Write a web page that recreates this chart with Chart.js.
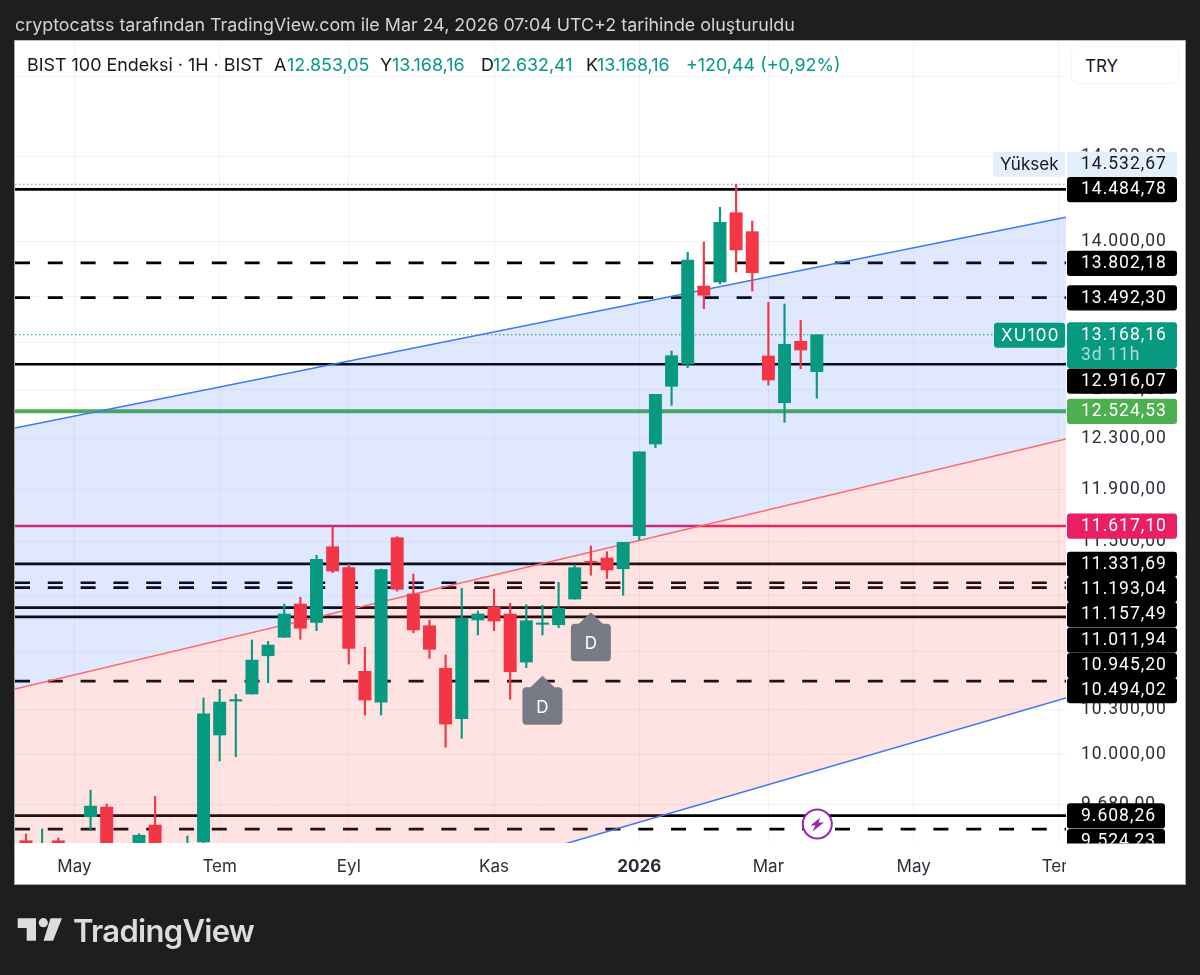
<!DOCTYPE html>
<html><head><meta charset="utf-8">
<script src="https://cdn.jsdelivr.net/npm/chart.js@4"></script>
<style>
html,body{margin:0;padding:0;width:1200px;height:975px;background:#1e1e1e;overflow:hidden;font-family:Inter,"Noto Sans",sans-serif}
#panel{position:absolute;left:14px;top:40px;width:1170px;height:843px;background:#fff;border:1px solid #a8a8a8;border-top-color:#bbb;box-sizing:content-box}
canvas{position:absolute;left:0;top:0;z-index:1}
.t{position:absolute;white-space:nowrap;z-index:2;line-height:1}
.h{top:55.5px;font-size:17.9px;color:#131722}
.g{color:#089981}
#try{position:absolute;z-index:2;left:1071px;top:46px;width:108px;height:38px;box-sizing:border-box;border:1px solid #f0f3fa;border-radius:7px;background:#fff}
</style></head><body>
<div id="panel"></div>
<canvas id="c" width="1200" height="975" style="width:1200px;height:975px"></canvas>
<div class="t" style="left:15px;top:15.5px;font-size:17.85px;color:#d4d4d4">cryptocatss tarafından TradingView.com ile Mar 24, 2026 07:04 UTC+2 tarihinde oluşturuldu</div>
<div class="t h" style="left:27px">BIST 100 Endeksi · 1H · BIST</div>
<div class="t h" style="left:274px">A</div><div class="t h g" style="left:287px">12.853,05</div>
<div class="t h" style="left:380px">Y</div><div class="t h g" style="left:392px">13.168,16</div>
<div class="t h" style="left:481px">D</div><div class="t h g" style="left:493px">12.632,41</div>
<div class="t h" style="left:586px">K</div><div class="t h g" style="left:597px">13.168,16</div>
<div class="t h g" style="left:686px">+120,44 (+0,92%)</div>
<div id="try"></div><div class="t" style="left:1085px;top:57.5px;font-size:17px;color:#131722">TRY</div>
<svg style="position:absolute;left:0;top:900px;z-index:2" width="70" height="60" viewBox="0 900 70 60"><path fill="#dcdcdc" d="M17.7 918.3H36V940.7H26.7V928H17.7ZM62 918.3H50.5L43.5 940.7H53Z"/><circle cx="43.3" cy="922.7" r="4.6" fill="#dcdcdc"/></svg>
<div class="t" style="left:73px;top:915px;font-size:31px;font-weight:600;letter-spacing:-.7px;color:#dcdcdc">TradingView</div>
<script>
// Weekly candles (the first ones run below the visible range).
const candleIdx=Array.from({length:50},(_,i)=>i);
const opens=[9452,9321,9452,9182,9602,9663,9333,9333,9550,9333,9260,9444,10130,
10358,10406,10670,10800,11038,10906,11460,11304,10562,10351,11528,11111,10882,
10583,10239,10923,11014,10966,10626,10892,10889,11074,11351,11376,11296,11543,
12258,12731,12918,13595,13631,14264,14088,12986,12594,13112,12853.05];
const highs=[9494,9525,9469,9333,9771,9682,9364,9495,9730,9364,9481,10379,10438,
10404,10781,10771,11038,11087,11396,11617,11329,10729,11294,11536,11257,10923,
10675,11152,10987,11147,11043,11033,11029,11196,11326,11466,11423,11493,12196,
12664,13028,13899,13993,14315,14532.67,14187,13451,13436,13293,13168.16];
const lows=[9242,9260,9303,9122,9514,9212,9152,9272,9242,9182,9212,9425,9959,
9987,10406,10483,10800,10786,10847,11267,10612,10264,10264,11132,10832,10652,
10049,10108,10816,10847,10370,10587,10816,10868,11074,11248,11225,11101,11511,
12228,12573,12887,13395,13613,13721,13551,12741,12434,12878,12632.41];
const closes=[9333,9395,9364,9303,9669,9272,9212,9486,9303,9242,9395,10272,10351,
10368,10640,10745,10966,10864,11366,11279,10722,10365,11289,11145,10852,10715,
10203,10937,10966,10916,10559,10918,10901,11007,11304,11341,11287,11493,12196,
12664,12988,13829,13513,14175,13920,13714,12783,13086,13037,13168.16];
// Horizontal levels
const solidLevels=[14484.78,12916.07,11331.69,11011.94,10945.20,9608.26];
const dashedLevels=[13802.18,13492.30,11193.04,11157.49,10494.02,9524.23];
const greenLevel=12524.53, magentaLevel=11617.10, highLevel=14532.67, lastPrice=13168.16;
// Channel lines, left and right ends
const channelUpper=[12387,14221], channelMiddle=[10440,12298], channelLower=[8493,10379];
// Axis ticks
const xTickIdx=[3,12,20,29,38,46,55,64];
const xTickLabels=['May','Tem','Eyl','Kas','2026','Mar','May','Tem'];
const yTicks=[15600,14800,14000,13500,13100,12700,12300,11900,11500,11100,10700,10300,10000,9680];
// Events
const dividendIdx=[32,35], dividendPrice=[10531,10978];
const boltIdx=[49], boltPrice=[9556];
// Price tags
const tagValues=[14532.67,14484.78,13802.18,13492.30,13168.16,12916.07,12524.53,11617.10,11331.69,11193.04,11157.49,11011.94,10945.20,10494.02,9608.26,9524.23];

const X_MIN=-0.6815, X_MAX=64.44;
const fmt=v=>{const [a,b]=v.toFixed(2).split('.');return a.replace(/\B(?=(\d{3})+$)/g,'.')+','+b};
const seg=v=>[{x:X_MIN,y:v},{x:X_MAX,y:v}];
const UP='#089981',DOWN='#F23645';
const cols=candleIdx.map(i=>closes[i]>=opens[i]?UP:DOWN);
const level=(v,color,width,dash)=>({type:'line',data:seg(v),borderColor:color,borderWidth:width,borderDash:dash||[],pointRadius:0,tension:0,fill:false,order:10});
const ds=[];
solidLevels.forEach(v=>ds.push(level(v,'#000',2.7)));
dashedLevels.forEach(v=>ds.push(level(v,'#000',2.7,[15,17.8])));
ds.push(level(greenLevel,'#4caf50',4));
ds.push(level(magentaLevel,'#e91e63',2.6));
ds.push(level(highLevel,'#8d8f96',1,[1.5,2.5]));
ds.push(level(lastPrice,'#089981',1,[1.5,2.5]));
const iUp=ds.length;
const chan=(arr,color,order,target,bg)=>({type:'line',data:[{x:X_MIN,y:arr[0]},{x:X_MAX,y:arr[1]}],borderColor:color,borderWidth:1.5,pointRadius:0,tension:0,order,fill:target==null?false:{target},backgroundColor:bg});
ds.push(chan(channelUpper,'#3f77f2',6,iUp+1,'rgba(41,98,255,.15)'));
ds.push(chan(channelMiddle,'#ff6a6a',5,iUp+2,'rgba(255,82,82,.17)'));
ds.push(chan(channelLower,'#3f77f2',4,null));
ds.push({type:'bar',data:candleIdx.map(i=>({x:i,y:[lows[i],highs[i]]})),backgroundColor:cols,barThickness:1.5,grouped:false,order:1,borderWidth:0});
ds.push({type:'bar',data:candleIdx.map(i=>({x:i,y:[opens[i],closes[i]]})),backgroundColor:cols,barThickness:12.3,grouped:false,order:0,borderWidth:0,minBarLength:1.4});

function rr(c,x,y,w,h,r){c.beginPath();c.roundRect(x,y,w,h,r);}
const FONT='17px Inter, "Noto Sans", sans-serif';
const NUM='17.5px Roboto, sans-serif';
const overlay={id:'overlay',
 beforeDraw(ch){
  const s=ch.scales.y,c=ch.ctx;
  if(!s._spaced){s._spaced=true;const d=s.drawLabels;s.drawLabels=function(a){c.save();c.letterSpacing='1px';d.call(this,a);c.restore();};}
 },
 afterDraw(ch){
  const c=ch.ctx,xS=ch.scales.x,yS=ch.scales.y,a=ch.chartArea;
  c.save();
  // covers the time-axis label that runs past the plot
  c.fillStyle='#fff';c.fillRect(a.right,a.bottom+1,118,40);
  // dividend badges
  dividendIdx.forEach((i,k)=>{
    const cx=xS.getPixelForValue(i),ty=yS.getPixelForValue(dividendPrice[k]);
    c.fillStyle='#787b86';
    rr(c,cx-20,ty+11.5,40,37.5,4);c.fill();
    c.beginPath();c.moveTo(cx,ty);c.lineTo(cx+13,ty+12.5);c.lineTo(cx-13,ty+12.5);c.closePath();c.fill();
    c.fillStyle='#fff';c.font=FONT;c.textAlign='center';c.textBaseline='middle';
    c.fillText('D',cx,ty+32);
  });
  // lightning
  boltIdx.forEach((i,k)=>{
    const cx=xS.getPixelForValue(i)+.5,cy=yS.getPixelForValue(boltPrice[k]);
    c.fillStyle='#fff';c.strokeStyle='#9c27b0';c.lineWidth=2;
    c.beginPath();c.arc(cx,cy,14.5,0,Math.PI*2);c.fill();c.stroke();
    c.fillStyle='#9c27b0';c.beginPath();
    [[2.8,-6.4],[-6.8,1.5],[-2,1.5],[-5,7.6],[6.6,-1.5],[1.2,-1.5]].forEach((p,n)=>n?c.lineTo(cx+p[0],cy+p[1]):c.moveTo(cx+p[0],cy+p[1]));
    c.closePath();c.fill();
  });
  // price tags
  const tops=[151.7,177,250.7,285.3,322.3,368.5,398.7,513.5,551.7,577,602,627.5,653,678,803.3,829];
  const bg=['#e3effd','#000','#000','#000','#089981','#000','#4caf50','#e91e63','#000','#000','#000','#000','#000','#000','#000','#000'];
  c.beginPath();c.rect(0,0,1200,a.bottom+.5);c.clip();
  c.textBaseline='middle';c.textAlign='left';c.font=FONT;
  // named tags on the plot side
  c.fillStyle='#e3effd';rr(c,993,151.7,72,25,3);c.fill();
  c.fillStyle='#089981';rr(c,994,322.7,71,25,3);c.fill();
  c.fillStyle='#131722';c.fillText('Yüksek',1000,164.5);
  c.letterSpacing='1.2px';
  c.fillStyle='#fff';c.fillText('XU100',1001,335.5);
  c.letterSpacing='1px';c.font=NUM;
  tagValues.forEach((v,k)=>{
    const w=v<10000?98:110,h=v===lastPrice?46:25.3;
    c.fillStyle=bg[k];rr(c,1067,tops[k],w,h,3);c.fill();
  });
  tagValues.forEach((v,k)=>{
    c.fillStyle=k===0?'#131722':'#fff';
    c.fillText(fmt(v),1081,tops[k]+13);
  });
  c.fillStyle='rgba(255,255,255,.65)';c.fillText('3d 11h',1081,356);
  c.restore();
}};

Chart.defaults.font.family='Inter, "Noto Sans", sans-serif';
new Chart(document.getElementById('c'),{
  type:'bar',
  data:{datasets:ds},
  plugins:[overlay],
  options:{
    responsive:false,animation:false,devicePixelRatio:1,
    layout:{padding:{left:15,right:15,top:41,bottom:91}},
    plugins:{legend:{display:false},tooltip:{enabled:false},filler:{drawTime:'beforeDatasetDraw',propagate:false}},
    scales:{
      x:{type:'linear',min:X_MIN,max:X_MAX,offset:false,
        afterBuildTicks:s=>{s.ticks=xTickIdx.map(v=>({value:v}))},
        afterFit:s=>{s.height=41},
        grid:{offset:false,color:'rgba(42,46,57,.06)',drawTicks:false,lineWidth:1},border:{display:false},
        ticks:{autoSkip:false,maxRotation:0,minRotation:0,padding:14,color:'#2a2e39',
          font:ctx=>({size:17,family:'Inter',weight:ctx.tick&&ctx.tick.value===38?'700':'400'}),
          callback:v=>xTickLabels[xTickIdx.indexOf(v)]}},
      y:{type:'logarithmic',position:'right',min:9438,max:15963,bounds:'data',
        afterBuildTicks:s=>{s.ticks=yTicks.map(v=>({value:v}))},
        afterFit:s=>{s.width=119},
        grid:{color:'rgba(42,46,57,.06)',drawTicks:false,lineWidth:1},border:{display:false},
        ticks:{autoSkip:false,padding:15,color:'#2a2e39',font:{size:17.5,family:'Roboto'},callback:v=>fmt(v)}}
    }
  }
});
</script></body></html>
